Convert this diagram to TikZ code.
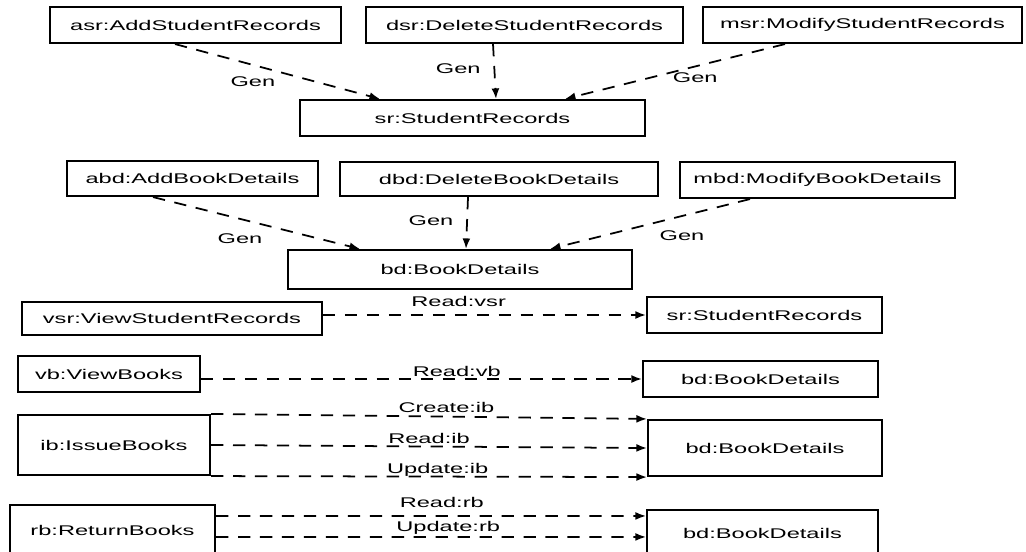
\documentclass[tikz,border=0pt]{standalone}
\usepackage{fontspec}
\setmainfont[FakeStretch=1.68]{Liberation Sans}
\usetikzlibrary{arrows.meta}
\usetikzlibrary{calc}

\begin{document}
\begin{tikzpicture}[%
    x=0.02cm, y=-0.02cm,
    every node/.style={font=\fontsize{8}{10}\selectfont},
    basic/.style={draw,line width=1.2pt,minimum height=0.72cm,inner sep=2pt},
    flow/.style={draw,line width=1pt,dash pattern=on 7pt off 5.5pt,
        -{Latex[length=6pt,width=4.5pt]}},
    lbl/.style={inner sep=1pt}
]
        \useasboundingbox (0,0) rectangle (1026,551);

        % student records
        \node[basic,minimum width=5.82cm] (asr) at (195.5,25) {asr:AddStudentRecords};
        \node[basic,minimum width=6.34cm] (dsr) at (524.5,25) {dsr:DeleteStudentRecords};
        \node[basic,minimum width=6.38cm] (msr) at (862.5,25) {msr:ModifyStudentRecords};
        \node[basic,minimum width=6.90cm] (sr1) at (472.5,118) {sr:StudentRecords};

        \path[flow] ([xshift=-0.41cm]asr.south) -- node[pos=0.38,below=3pt]{Gen} ([xshift=-1.85cm]sr1.north);
        \path[flow] ([xshift=-0.63cm]dsr.south) -- node[pos=0.45,left=4pt]{Gen} ([xshift=0.47cm]sr1.north);
        \path[flow] ([xshift=-1.55cm]msr.south) -- node[pos=0.54,anchor=west,yshift=-2pt]{Gen} ([xshift=1.85cm]sr1.north);

        % book details
        \node[basic,minimum width=5.02cm,minimum height=0.70cm] (abd) at (192.5,178.5) {abd:AddBookDetails};
        \node[basic,minimum width=6.36cm,minimum height=0.68cm] (dbd) at (499,179) {dbd:DeleteBookDetails};
        \node[basic,minimum width=5.50cm] (mbd) at (817.5,180) {mbd:ModifyBookDetails};
        \node[basic,minimum width=6.88cm,minimum height=0.78cm] (bd1) at (460,269.5) {bd:BookDetails};

        \path[flow] ([xshift=-0.79cm]abd.south) -- node[pos=0.42,below=4.5pt]{Gen} ([xshift=-2cm]bd1.north);
        \path[flow] ([xshift=-0.62cm]dbd.south) -- node[pos=0.45,left=4pt]{Gen} ([xshift=0.12cm]bd1.north);
        \path[flow] ([xshift=-1.35cm]mbd.south) -- node[pos=0.485,anchor=west,yshift=-7pt]{Gen} ([xshift=1.8cm]bd1.north);

        % read, create, update
        \node[basic,minimum width=6.00cm,minimum height=0.66cm] (vsr) at (172,318.5) {vsr:ViewStudentRecords};
        \node[basic,minimum width=4.70cm] (sr2) at (764.5,315) {sr:StudentRecords};
        \path[flow] (vsr.east |- sr2.west) -- node[lbl,pos=0.42,above=3.5pt]{Read:vsr} (sr2.west);

        \node[basic,minimum width=3.64cm] (vb) at (109,374) {vb:ViewBooks};
        \node[basic,minimum width=4.70cm] (bd2) at (760.5,379) {bd:BookDetails};
        \path[flow] (vb.east |- bd2.west) -- node[lbl,pos=0.58,above=0pt]{Read:vb} (bd2.west);

        \node[basic,minimum width=3.84cm,minimum height=1.20cm] (ib) at (114,445) {ib:IssueBooks};
        \node[basic,minimum width=4.68cm,minimum height=1.12cm] (bd3) at (765,448) {bd:BookDetails};
        \path[flow] (ib.north east) -- node[lbl,pos=0.54,above=1pt]{Create:ib} (bd3.north west);
        \path[flow] (ib.east) -- node[lbl,pos=0.50,above=0pt]{Read:ib} (bd3.west);
        \path[flow] (ib.south east) -- node[lbl,pos=0.52,above=-1.4pt]{Update:ib} (bd3.south west);

        \node[basic,minimum width=4.10cm,minimum height=1.00cm] (rb) at (112.5,530) {rb:ReturnBooks};
        \node[basic,minimum width=4.62cm,minimum height=0.92cm] (bd4) at (762.5,533) {bd:BookDetails};
        \path[flow] ([yshift=-0.24cm]rb.north east) -- node[lbl,pos=0.525,above=3pt]{Read:rb} ([yshift=-0.14cm]bd4.north west);
        \path[flow] ([yshift=-0.66cm]rb.north east) -- node[lbl,pos=0.54,above=0pt]{Update:rb} ([yshift=-0.56cm]bd4.north west);
\end{tikzpicture}
\end{document}
